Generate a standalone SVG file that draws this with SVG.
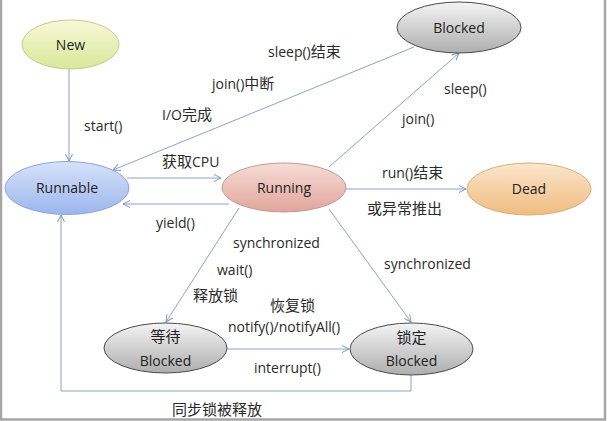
<svg xmlns="http://www.w3.org/2000/svg" width="608" height="421" viewBox="0 0 608 421">
<defs>
<linearGradient id="gNew" x1="0" y1="0" x2="0" y2="1"><stop offset="0" stop-color="#f6f9d6"/><stop offset="1" stop-color="#d9e79a"/></linearGradient>
<linearGradient id="gBlue" x1="0" y1="0" x2="0" y2="1"><stop offset="0" stop-color="#d6e2fa"/><stop offset="1" stop-color="#9cb6ec"/></linearGradient>
<linearGradient id="gRed" x1="0" y1="0" x2="0" y2="1"><stop offset="0" stop-color="#f7dcd6"/><stop offset="1" stop-color="#e0a59c"/></linearGradient>
<linearGradient id="gGray" x1="0" y1="0" x2="0" y2="1"><stop offset="0" stop-color="#f4f4f4"/><stop offset="1" stop-color="#aeaeae"/></linearGradient>
<linearGradient id="gOrange" x1="0" y1="0" x2="0" y2="1"><stop offset="0" stop-color="#fbe6cc"/><stop offset="1" stop-color="#f0bc80"/></linearGradient>
<marker id="arr" markerWidth="10" markerHeight="10" refX="8" refY="4" orient="auto" markerUnits="userSpaceOnUse">
<path d="M1,0.5 L8,4 L1,7.5" fill="none" stroke="#7f93bf" stroke-width="1"/>
</marker>
</defs>
<style>
.ln{fill:none;stroke:#8fa2c8;stroke-width:1}
.t{font-family:"Open Sans","Noto Sans CJK SC",sans-serif;font-size:14px;fill:#2a2a2a}
.n{font-family:"Open Sans","Noto Sans CJK SC",sans-serif;font-size:14px;fill:#222;text-anchor:middle}
.cjk{font-size:15px}
</style>
<rect x="0" y="0" width="608" height="421" fill="#ffffff"/>
<path d="M1,0 V419.5 H605 V0" fill="none" stroke="#a6a6a6" stroke-width="2.5"/>

<g id="connectors">
<line class="ln" x1="69" y1="69" x2="69" y2="161" marker-end="url(#arr)"/>
<line class="ln" x1="414" y1="47" x2="113" y2="170" marker-end="url(#arr)"/>
<line class="ln" x1="127" y1="178" x2="221" y2="178" marker-end="url(#arr)"/>
<line class="ln" x1="229" y1="204" x2="123" y2="204" marker-end="url(#arr)"/>
<line class="ln" x1="329" y1="167" x2="459" y2="53" marker-end="url(#arr)"/>
<line class="ln" x1="346" y1="189" x2="466" y2="189" marker-end="url(#arr)"/>
<line class="ln" x1="239" y1="208" x2="166" y2="322" marker-end="url(#arr)"/>
<line class="ln" x1="329" y1="209" x2="411" y2="322" marker-end="url(#arr)"/>
<line class="ln" x1="227" y1="349" x2="349" y2="349" marker-end="url(#arr)"/>
<polyline class="ln" points="411,375 411,391 61,391 61,215" marker-end="url(#arr)"/>
</g>

<g id="labels">
<text class="t" x="84" y="131">start()</text>
<text class="t" x="268" y="57">sleep()<tspan class="cjk">结束</tspan></text>
<text class="t" x="212" y="89">join()<tspan class="cjk">中断</tspan></text>
<text class="t" x="162" y="120">I/O<tspan class="cjk">完成</tspan></text>
<text class="t" x="162" y="167"><tspan class="cjk">获取</tspan>CPU</text>
<text class="t" x="156" y="228">yield()</text>
<text class="t" x="444" y="94">sleep()</text>
<text class="t" x="402" y="124">join()</text>
<text class="t" x="382" y="178">run()<tspan class="cjk">结束</tspan></text>
<text class="t cjk" x="367" y="214">或异常推出</text>
<text class="t" x="233" y="248">synchronized</text>
<text class="t" x="217" y="275">wait()</text>
<text class="t cjk" x="193" y="301">释放锁</text>
<text class="t cjk" x="270" y="311">恢复锁</text>
<text class="t" x="228" y="332">notify()/notifyAll()</text>
<text class="t" x="254" y="373">interrupt()</text>
<text class="t" x="384" y="269">synchronized</text>
<text class="t cjk" x="172" y="415">同步锁被释放</text>
</g>

<g id="new">
<ellipse cx="70.5" cy="44.5" rx="48.5" ry="24.5" fill="url(#gNew)" stroke="#c2cc8e" stroke-width="1"/>
<text class="n" x="70.5" y="49.5">New</text>
</g>
<g id="runnable">
<ellipse cx="67" cy="188" rx="62" ry="26.5" fill="url(#gBlue)" stroke="#8ea6d6" stroke-width="1"/>
<text class="n" x="67" y="193">Runnable</text>
</g>
<g id="running">
<ellipse cx="284" cy="187.5" rx="62" ry="24.5" fill="url(#gRed)" stroke="#c49a94" stroke-width="1"/>
<text class="n" x="284" y="193">Running</text>
</g>
<g id="blocked">
<ellipse cx="459" cy="27.5" rx="62" ry="25.5" fill="url(#gGray)" stroke="#4a4a4a" stroke-width="1"/>
<text class="n" x="459" y="33">Blocked</text>
</g>
<g id="dead">
<ellipse cx="529" cy="189" rx="62" ry="26" fill="url(#gOrange)" stroke="#d6ae80" stroke-width="1"/>
<text class="n" x="529" y="194">Dead</text>
</g>
<g id="waiting">
<ellipse cx="165.5" cy="348" rx="61.5" ry="25" fill="url(#gGray)" stroke="#4a4a4a" stroke-width="1"/>
<text class="n cjk" x="165.5" y="342">等待</text>
<text class="n" x="165.5" y="366">Blocked</text>
</g>
<g id="locked">
<ellipse cx="411.5" cy="349" rx="61.5" ry="26" fill="url(#gGray)" stroke="#4a4a4a" stroke-width="1"/>
<text class="n cjk" x="411.5" y="343">锁定</text>
<text class="n" x="411.5" y="366">Blocked</text>
</g>
</svg>
